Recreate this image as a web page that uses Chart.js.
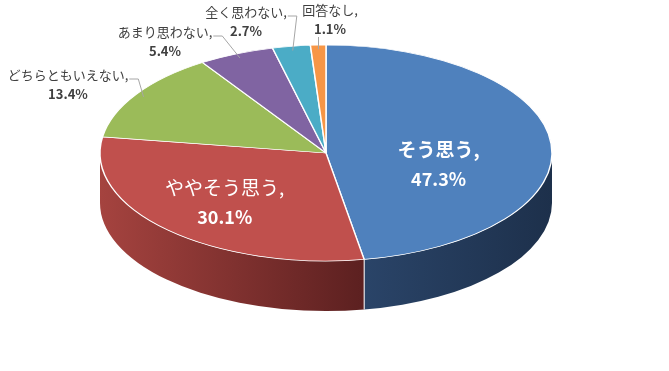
<!DOCTYPE html>
<html>
<head>
<meta charset="utf-8">
<script src="https://cdn.jsdelivr.net/npm/chart.js@4"></script>
<style>
  html, body { margin: 0; padding: 0; background: #fff; }
  #wrap { width: 669px; height: 371px; }
</style>
</head>
<body>
<div id="wrap"><canvas id="pieChart" width="669" height="371"></canvas></div>
<script>
// data
const labels = ['そう思う', 'ややそう思う', 'どちらともいえない', 'あまり思わない', '全く思わない', '回答なし'];
const values = [47.3, 30.1, 13.4, 5.4, 2.7, 1.1];
const topColors = ['#4f81bd', '#c0504d', '#9bbb59', '#8064a2', '#4bacc6', '#f79646'];
const sideLight = ['#2a4468', '#a5433f', '#6f8a3c', '#5a4476', '#2f7d92', '#b86a2a'];
const sideDark = ['#1d304b', '#5c2020', '#4a5e26', '#3d2e52', '#1f5666', '#80481a'];

// ellipse geometry of the tilted pie
const RX = 226, RY = 108, DEPTH = 50;
const FONT = '"Noto Sans CJK JP", "Noto Sans", sans-serif';

// where Excel put the labels that sit outside the pie (centre of first line)
const outerPos = [null, null, {x: 68, y: 75}, {x: 165, y: 32}, {x: 246, y: 12}, {x: 330, y: 10}];
// inside labels: fraction of radius along mid angle, vertical shift
const innerPos = [{k: 0.5, dy: 16}, {k: 0.64, dy: 0}];

function ellPoint(cx, cy, a, k) {
    return { x: cx + RX * k * Math.cos(a), y: cy + RY * k * Math.sin(a) };
}

const pie3d = {
    id: 'pie3d',
    beforeDatasetsDraw(chart) {
        const ctx = chart.ctx;
        const arcs = chart.getDatasetMeta(0).data;
        const cx = arcs[0].x, cy = arcs[0].y, r = arcs[0].outerRadius;

        // side walls, only the front half is visible
        arcs.forEach((arc, i) => {
            const a1 = Math.max(arc.startAngle, 0);
            const a2 = Math.min(arc.endAngle, Math.PI);
            if (a2 <= a1) return;
            const p1 = ellPoint(cx, cy, a1, 1);
            const p2 = ellPoint(cx, cy, a2, 1);
            const g = ctx.createLinearGradient(Math.min(p1.x, p2.x), 0, Math.max(p1.x, p2.x), 0);
            g.addColorStop(0, sideLight[i]);
            g.addColorStop(1, sideDark[i]);
            ctx.beginPath();
            ctx.ellipse(cx, cy, RX, RY, 0, a1, a2);
            ctx.ellipse(cx, cy + DEPTH, RX, RY, 0, a2, a1, true);
            ctx.closePath();
            ctx.fillStyle = g;
            ctx.fill();
        });

        // white edge where slices meet on the side
        arcs.forEach(arc => {
            const a = arc.endAngle;
            if (a > 0 && a < Math.PI) {
                const p = ellPoint(cx, cy, a, 1);
                ctx.beginPath();
                ctx.moveTo(p.x, p.y);
                ctx.lineTo(p.x, p.y + DEPTH);
                ctx.strokeStyle = '#ffffff';
                ctx.lineWidth = 1;
                ctx.stroke();
            }
        });

        // squash the top face into the ellipse
        ctx.save();
        ctx.translate(cx, cy);
        ctx.scale(RX / r, RY / r);
        ctx.translate(-cx, -cy);
    },
    afterDatasetsDraw(chart) {
        const ctx = chart.ctx;
        ctx.restore();

        const arcs = chart.getDatasetMeta(0).data;
        const cx = arcs[0].x, cy = arcs[0].y;
        ctx.textAlign = 'center';
        ctx.textBaseline = 'middle';

        arcs.forEach((arc, i) => {
            const mid = (arc.startAngle + arc.endAngle) / 2;
            const pct = values[i].toFixed(1) + '%';

            if (innerPos[i]) {
                const p = ellPoint(cx, cy, mid, innerPos[i].k);
                const y0 = p.y + innerPos[i].dy;
                ctx.fillStyle = '#ffffff';
                ctx.font = (i === 0 ? 'bold ' : '') + '19px ' + FONT;
                ctx.fillText(labels[i] + ',', p.x, y0 - 15);
                ctx.font = 'bold 18px ' + FONT;
                ctx.fillText(pct, p.x, y0 + 15);
                return;
            }

            const pos = outerPos[i];
            ctx.font = '13px ' + FONT;
            const t1 = labels[i] + ',';
            const w1 = ctx.measureText(t1).width;
            ctx.fillStyle = '#404040';
            ctx.fillText(t1, pos.x, pos.y);
            ctx.font = 'bold 13px ' + FONT;
            const w2 = ctx.measureText(pct).width;
            ctx.fillText(pct, pos.x, pos.y + 19);

            // leader line to the rim
            const end = ellPoint(cx, cy, mid, 0.96);
            ctx.beginPath();
            if (Math.abs(end.x - pos.x) < w2 / 2 + 2) {
                ctx.moveTo(end.x, pos.y + 27);
                ctx.lineTo(end.x, end.y);
            } else {
                const sx = pos.x + w1 / 2 + 1;
                ctx.moveTo(sx, pos.y + 4);
                ctx.lineTo(sx + 9, pos.y + 4);
                ctx.lineTo(end.x, end.y);
            }
            ctx.strokeStyle = '#a6a6a6';
            ctx.lineWidth = 1;
            ctx.stroke();
        });
    }
};

const ctx = document.getElementById('pieChart').getContext('2d');
new Chart(ctx, {
    type: 'pie',
    data: {
        labels: labels,
        datasets: [{
            data: values,
            backgroundColor: topColors,
            borderColor: '#ffffff',
            borderWidth: 1
        }]
    },
    options: {
        responsive: false,
        animation: false,
        layout: { padding: { left: 100, right: 117, top: 0, bottom: 65 } },
        plugins: {
            legend: { display: false },
            tooltip: { enabled: false }
        }
    },
    plugins: [pie3d]
});
</script>
</body>
</html>
